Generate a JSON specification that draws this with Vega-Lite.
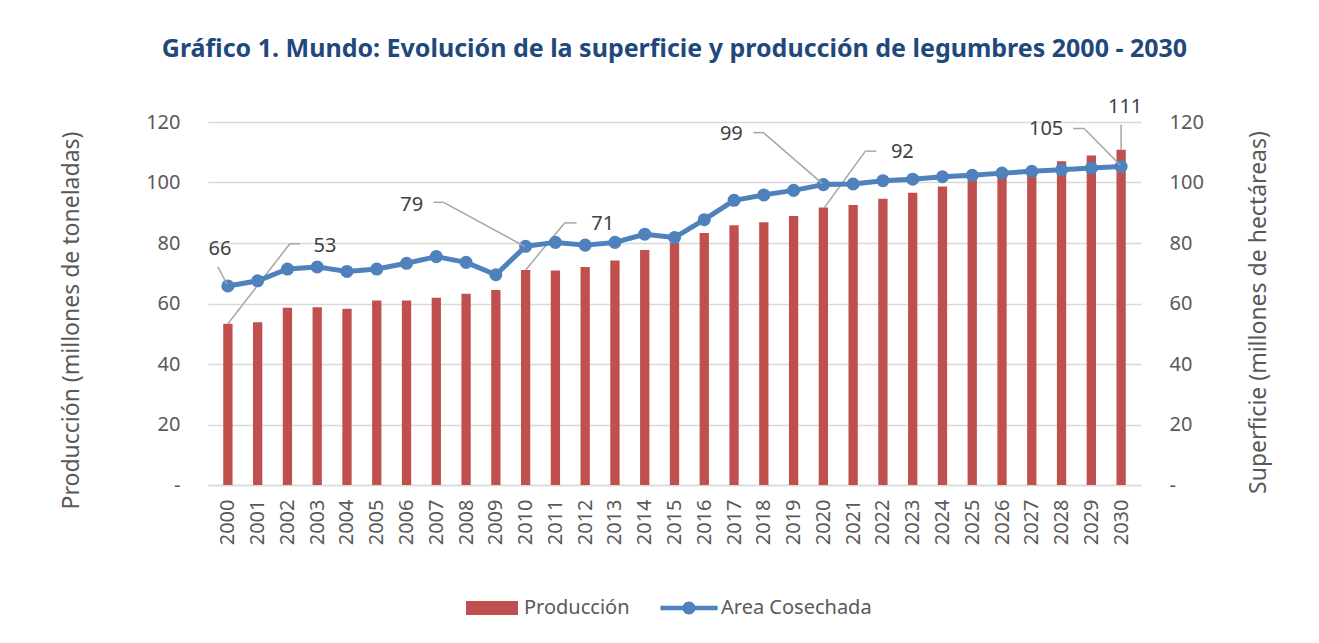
{
  "$schema": "https://vega.github.io/schema/vega-lite/v6.json",
  "width": 933,
  "height": 363,
  "autosize": "none",
  "padding": {"left": 208, "top": 122, "right": 178, "bottom": 158},
  "background": "white",
  "config": {
    "view": {"stroke": null},
    "font": "Noto Sans",
    "text": {"font": "Noto Sans", "fontSize": 20, "color": "#404040", "align": "center", "baseline": "middle"},
    "rule": {"color": "#A6A6A6", "strokeWidth": 1.5}
  },
  "title": {
    "text": "Gráfico 1. Mundo: Evolución de la superficie y producción de legumbres 2000 - 2030",
    "anchor": "middle",
    "font": "Noto Sans",
    "fontSize": 25,
    "fontWeight": "bold",
    "color": "#1F497D",
    "offset": 35
  },
  "data": {
    "values": [
      {"year": 2000, "produccion": 53.3, "area": 65.8},
      {"year": 2001, "produccion": 53.8, "area": 67.5},
      {"year": 2002, "produccion": 58.6, "area": 71.4},
      {"year": 2003, "produccion": 58.8, "area": 72.1},
      {"year": 2004, "produccion": 58.3, "area": 70.6},
      {"year": 2005, "produccion": 61.0, "area": 71.4},
      {"year": 2006, "produccion": 61.0, "area": 73.3},
      {"year": 2007, "produccion": 61.9, "area": 75.5},
      {"year": 2008, "produccion": 63.2, "area": 73.6},
      {"year": 2009, "produccion": 64.5, "area": 69.5},
      {"year": 2010, "produccion": 71.1, "area": 78.9},
      {"year": 2011, "produccion": 70.9, "area": 80.2},
      {"year": 2012, "produccion": 72.1, "area": 79.3},
      {"year": 2013, "produccion": 74.2, "area": 80.2},
      {"year": 2014, "produccion": 77.7, "area": 82.9},
      {"year": 2015, "produccion": 80.0, "area": 81.8},
      {"year": 2016, "produccion": 83.3, "area": 87.7},
      {"year": 2017, "produccion": 85.9, "area": 94.1},
      {"year": 2018, "produccion": 86.9, "area": 95.9},
      {"year": 2019, "produccion": 88.9, "area": 97.4},
      {"year": 2020, "produccion": 91.7, "area": 99.3},
      {"year": 2021, "produccion": 92.6, "area": 99.5},
      {"year": 2022, "produccion": 94.6, "area": 100.6},
      {"year": 2023, "produccion": 96.6, "area": 101.1},
      {"year": 2024, "produccion": 98.7, "area": 101.9},
      {"year": 2025, "produccion": 100.8, "area": 102.4},
      {"year": 2026, "produccion": 102.8, "area": 103.1},
      {"year": 2027, "produccion": 104.9, "area": 103.7},
      {"year": 2028, "produccion": 107.0, "area": 104.2},
      {"year": 2029, "produccion": 108.9, "area": 104.8},
      {"year": 2030, "produccion": 110.8, "area": 105.3}
    ]
  },
  "encoding": {
    "x": {
      "field": "year",
      "type": "quantitative",
      "scale": {"domain": [1999.5, 2030.5], "nice": false, "zero": false},
      "axis": {
        "title": null,
        "values": [2000,2001,2002,2003,2004,2005,2006,2007,2008,2009,2010,2011,2012,2013,2014,2015,2016,2017,2018,2019,2020,2021,2022,2023,2024,2025,2026,2027,2028,2029,2030],
        "format": "d",
        "labelAngle": -90,
        "labelAlign": "right",
        "labelBaseline": "middle",
        "labelPadding": 14,
        "labelFont": "Noto Sans",
        "labelFontSize": 20,
        "labelColor": "#595959",
        "labelOverlap": false,
        "labelFlush": false,
        "ticks": false,
        "grid": false,
        "domain": true,
        "domainColor": "#D9D9D9",
        "domainWidth": 1.5
      }
    }
  },
  "layer": [
    {
      "encoding": {
        "y": {
          "field": "produccion",
          "type": "quantitative",
          "scale": {"domain": [0, 120], "nice": false},
          "axis": {
            "title": "Producción (millones de toneladas)",
            "values": [0, 20, 40, 60, 80, 100, 120],
            "labelExpr": "datum.value == 0 ? '-' : datum.label",
            "ticks": false,
            "domain": false,
            "grid": true,
            "gridColor": "#D9D9D9",
            "gridWidth": 1.5,
            "labelPadding": 28,
            "labelFont": "Noto Sans",
            "labelFontSize": 20,
            "labelColor": "#595959",
            "titleFont": "Noto Sans",
            "titleFontSize": 23,
            "titleFontWeight": "normal",
            "titleColor": "#595959",
            "titleAngle": -90,
            "titleBaseline": "middle",
            "titleAlign": "center",
            "titleX": -137,
            "titleY": 198
          }
        }
      },
      "layer": [
        {
          "mark": {"type": "bar", "width": 9.3},
          "encoding": {
            "color": {
              "datum": "Producción",
              "scale": {"domain": ["Producción", "Area Cosechada"], "range": ["#C0504D", "#4F81BD"]},
              "legend": {
                "title": null,
                "orient": "none",
                "legendX": 258,
                "legendY": 460,
                "direction": "horizontal",
                "symbolSize": 2704,
                "labelFont": "Noto Sans",
                "labelFontSize": 20,
                "labelColor": "#595959",
                "labelOffset": 6,
                "columnPadding": 30,
                "encode": {
                  "symbols": {
                    "update": {
                      "shape": {"signal": "datum.value == 'Producción' ? 'M-1,-0.27H1V0.27H-1Z' : 'M-1.1,-0.09H1.1V0.09H-1.1Z M-0.25,0A0.25,0.25,0,1,1,0.25,0A0.25,0.25,0,1,1,-0.25,0Z'"},
                      "fill": {"signal": "datum.value == 'Producción' ? '#C0504D' : '#4F81BD'"},
                      "stroke": {"value": "transparent"},
                      "strokeWidth": {"value": 0},
                      "opacity": {"value": 1}
                    }
                  }
                }
              }
            }
          }
        },
        {
          "transform": [{"filter": "datum.year == 2000"}],
          "mark": {"type": "text", "dx": 97, "dy": -78},
          "encoding": {"text": {"field": "produccion", "format": ".0f"}}
        },
        {
          "transform": [{"filter": "datum.year == 2000"}],
          "mark": {"type": "rule", "xOffset": 0, "yOffset": 0, "x2Offset": 62, "y2Offset": -80},
          "encoding": {"x2": {"field": "year"}, "y2": {"field": "produccion"}}
        },
        {
          "transform": [{"filter": "datum.year == 2000"}],
          "mark": {"type": "rule", "xOffset": 62, "yOffset": -80, "x2Offset": 72, "y2Offset": -80},
          "encoding": {"x2": {"field": "year"}, "y2": {"field": "produccion"}}
        },
        {
          "transform": [{"filter": "datum.year == 2010"}],
          "mark": {"type": "text", "dx": 77, "dy": -46},
          "encoding": {"text": {"field": "produccion", "format": ".0f"}}
        },
        {
          "transform": [{"filter": "datum.year == 2010"}],
          "mark": {"type": "rule", "xOffset": 0, "yOffset": 0, "x2Offset": 39, "y2Offset": -47},
          "encoding": {"x2": {"field": "year"}, "y2": {"field": "produccion"}}
        },
        {
          "transform": [{"filter": "datum.year == 2010"}],
          "mark": {"type": "rule", "xOffset": 39, "yOffset": -47, "x2Offset": 51, "y2Offset": -47},
          "encoding": {"x2": {"field": "year"}, "y2": {"field": "produccion"}}
        },
        {
          "transform": [{"filter": "datum.year == 2020"}],
          "mark": {"type": "text", "dx": 79, "dy": -56},
          "encoding": {"text": {"field": "produccion", "format": ".0f"}}
        },
        {
          "transform": [{"filter": "datum.year == 2020"}],
          "mark": {"type": "rule", "xOffset": 1, "yOffset": 0, "x2Offset": 42, "y2Offset": -56.5},
          "encoding": {"x2": {"field": "year"}, "y2": {"field": "produccion"}}
        },
        {
          "transform": [{"filter": "datum.year == 2020"}],
          "mark": {"type": "rule", "xOffset": 42, "yOffset": -56.5, "x2Offset": 53, "y2Offset": -56.5},
          "encoding": {"x2": {"field": "year"}, "y2": {"field": "produccion"}}
        },
        {
          "transform": [{"filter": "datum.year == 2030"}],
          "mark": {"type": "text", "dx": 4, "dy": -43},
          "encoding": {"text": {"field": "produccion", "format": ".0f"}}
        },
        {
          "transform": [{"filter": "datum.year == 2030"}],
          "mark": {"type": "rule", "xOffset": 0, "yOffset": -25, "x2Offset": 0, "y2Offset": 0},
          "encoding": {"x2": {"field": "year"}, "y2": {"field": "produccion"}}
        }
      ]
    },
    {
      "encoding": {
        "y": {
          "field": "area",
          "type": "quantitative",
          "scale": {"domain": [0, 120], "nice": false},
          "axis": {
            "orient": "right",
            "title": "Superficie (millones de hectáreas)",
            "values": [0, 20, 40, 60, 80, 100, 120],
            "labelExpr": "datum.value == 0 ? '-' : datum.label",
            "ticks": false,
            "domain": false,
            "grid": false,
            "labelPadding": 28,
            "labelFont": "Noto Sans",
            "labelFontSize": 20,
            "labelColor": "#595959",
            "titleFont": "Noto Sans",
            "titleFontSize": 23,
            "titleFontWeight": "normal",
            "titleColor": "#595959",
            "titleAngle": -90,
            "titleBaseline": "middle",
            "titleAlign": "center",
            "titleX": 117,
            "titleY": 190
          }
        }
      },
      "layer": [
        {
          "mark": {"type": "line", "strokeWidth": 5, "strokeCap": "round", "strokeJoin": "round", "point": {"filled": true, "size": 170, "opacity": 1}},
          "encoding": {"color": {"datum": "Area Cosechada"}}
        },
        {
          "transform": [{"filter": "datum.year == 2000"}],
          "mark": {"type": "text", "dx": -8, "dy": -37},
          "encoding": {"text": {"field": "area", "format": ".0f"}}
        },
        {
          "transform": [{"filter": "datum.year == 2000"}],
          "mark": {"type": "rule", "xOffset": -10, "yOffset": -19, "x2Offset": -1, "y2Offset": -2},
          "encoding": {"x2": {"field": "year"}, "y2": {"field": "area"}}
        },
        {
          "transform": [{"filter": "datum.year == 2010"}],
          "mark": {"type": "text", "dx": -114, "dy": -41},
          "encoding": {"text": {"field": "area", "format": ".0f"}}
        },
        {
          "transform": [{"filter": "datum.year == 2010"}],
          "mark": {"type": "rule", "xOffset": -92, "yOffset": -44, "x2Offset": -82, "y2Offset": -44},
          "encoding": {"x2": {"field": "year"}, "y2": {"field": "area"}}
        },
        {
          "transform": [{"filter": "datum.year == 2010"}],
          "mark": {"type": "rule", "xOffset": -82, "yOffset": -44, "x2Offset": -1, "y2Offset": 0},
          "encoding": {"x2": {"field": "year"}, "y2": {"field": "area"}}
        },
        {
          "transform": [{"filter": "datum.year == 2020"}],
          "mark": {"type": "text", "dx": -92, "dy": -51},
          "encoding": {"text": {"field": "area", "format": ".0f"}}
        },
        {
          "transform": [{"filter": "datum.year == 2020"}],
          "mark": {"type": "rule", "xOffset": -70, "yOffset": -52, "x2Offset": -60, "y2Offset": -52},
          "encoding": {"x2": {"field": "year"}, "y2": {"field": "area"}}
        },
        {
          "transform": [{"filter": "datum.year == 2020"}],
          "mark": {"type": "rule", "xOffset": -60, "yOffset": -52, "x2Offset": -1, "y2Offset": -1},
          "encoding": {"x2": {"field": "year"}, "y2": {"field": "area"}}
        },
        {
          "transform": [{"filter": "datum.year == 2030"}],
          "mark": {"type": "text", "dx": -75, "dy": -37},
          "encoding": {"text": {"field": "area", "format": ".0f"}}
        },
        {
          "transform": [{"filter": "datum.year == 2030"}],
          "mark": {"type": "rule", "xOffset": -48, "yOffset": -38, "x2Offset": -37, "y2Offset": -38},
          "encoding": {"x2": {"field": "year"}, "y2": {"field": "area"}}
        },
        {
          "transform": [{"filter": "datum.year == 2030"}],
          "mark": {"type": "rule", "xOffset": -37, "yOffset": -38, "x2Offset": -1, "y2Offset": -1.5},
          "encoding": {"x2": {"field": "year"}, "y2": {"field": "area"}}
        }
      ]
    }
  ],
  "resolve": {"scale": {"y": "independent"}}
}
